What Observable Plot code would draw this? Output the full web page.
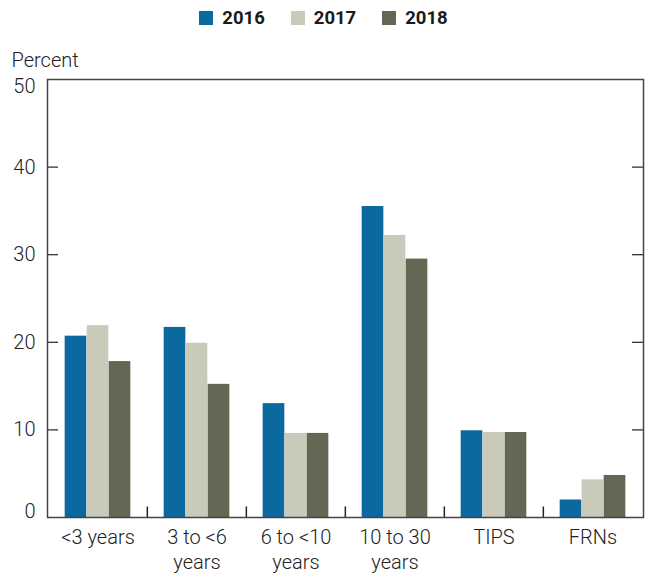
<!DOCTYPE html>
<html>
<head>
<meta charset="utf-8">
<script src="https://cdn.jsdelivr.net/npm/d3@7"></script>
<script src="https://cdn.jsdelivr.net/npm/@observablehq/plot@0.6"></script>
<style>
  body { margin: 0; background: #fff; font-family: Roboto, sans-serif; }
  #wrap { width: 647px; height: 576px; position: relative; }
  #legend { height: 36px; display: flex; justify-content: center; align-items: center; font-weight: 700; font-size: 18.5px; color: #1a1a1a; }
  .item { display: flex; align-items: center; margin: 0 13px; }
  .sw { width: 14px; height: 14px; margin-right: 9px; }
</style>
</head>
<body>
<div id="wrap">
  <div id="legend"></div>
  <div id="chart"></div>
</div>
<script>
const categories = ["<3 years", "3 to <6\nyears", "6 to <10\nyears", "10 to 30\nyears", "TIPS", "FRNs"];
const years = ["2016", "2017", "2018"];
const colors = ["#0b69a0", "#c9cab9", "#656654"];
const values2016 = [20.7, 21.7, 13.0, 35.5, 9.9, 2.0];
const values2017 = [21.9, 19.9, 9.6, 32.2, 9.7, 4.3];
const values2018 = [17.8, 15.2, 9.6, 29.5, 9.7, 4.8];
const yTicks = [0, 10, 20, 30, 40, 50];

const series = [values2016, values2017, values2018];

// Legend
const legend = document.getElementById("legend");
years.forEach((y, i) => {
  const it = document.createElement("div");
  it.className = "item";
  it.innerHTML = `<span class="sw" style="background:${colors[i]}"></span><span>${y}</span>`;
  legend.appendChild(it);
});

const width = 647, height = 540;
const marginLeft = 47, marginRight = 4, marginTop = 43, marginBottom = 59;
const plotW = width - marginLeft - marginRight;
const bw = plotW / categories.length;
const barW = 22;

const barMarks = series.map((vals, i) => {
  const data = categories.map((c, j) => ({category: c, value: vals[j]}));
  const off = (i - 1) * barW;
  const left = bw / 2 + off - barW / 2;
  const right = bw - left - barW;
  return Plot.barY(data, {x: "category", y: "value", fill: colors[i], insetLeft: left, insetRight: right});
});

const labelStyle = {frameAnchor: "left", dx: -12, textAnchor: "end", fontSize: 20, fontWeight: 300, fill: "#222"};

const chart = Plot.plot({
  width, height, marginLeft, marginRight, marginTop, marginBottom,
  style: {fontFamily: "Roboto, sans-serif", fontSize: "20px", fontWeight: 300, color: "#222", background: "#fff"},
  x: {domain: categories, padding: 0, label: null},
  y: {domain: [0, 50], label: null, axis: null},
  marks: [
    ...barMarks,
    Plot.axisX({tickSize: 0, tickPadding: 9, lineHeight: 1.25, fontSize: 20, fontWeight: 300, label: null}),
    Plot.text(yTicks.slice(1, -1), {...labelStyle, y: d => d, text: d => String(d)}),
    Plot.text([yTicks[0]], {...labelStyle, y: d => d, text: d => String(d), dy: -6}),
    Plot.text([yTicks[yTicks.length - 1]], {...labelStyle, y: d => d, text: d => String(d), dy: 7}),
    Plot.tickY(yTicks.slice(1, -1), {y: d => d, insetRight: plotW - 11, stroke: "#222", strokeWidth: 1.2}),
    Plot.tickY(yTicks.slice(1, -1), {y: d => d, insetLeft: plotW - 11, stroke: "#222", strokeWidth: 1.2}),
    Plot.ruleX(categories.slice(1), {x: d => d, y1: 0, y2: 1.2, dx: -bw / 2, stroke: "#222", strokeWidth: 1.5}),
    Plot.frame({stroke: "#444", strokeWidth: 1.5}),
    Plot.text(["Percent"], {text: d => d, frameAnchor: "top-left", dx: -36, dy: -27, textAnchor: "start", fontSize: 20, fontWeight: 300, fill: "#222"})
  ]
});
document.getElementById("chart").appendChild(chart);
</script>
</body>
</html>
